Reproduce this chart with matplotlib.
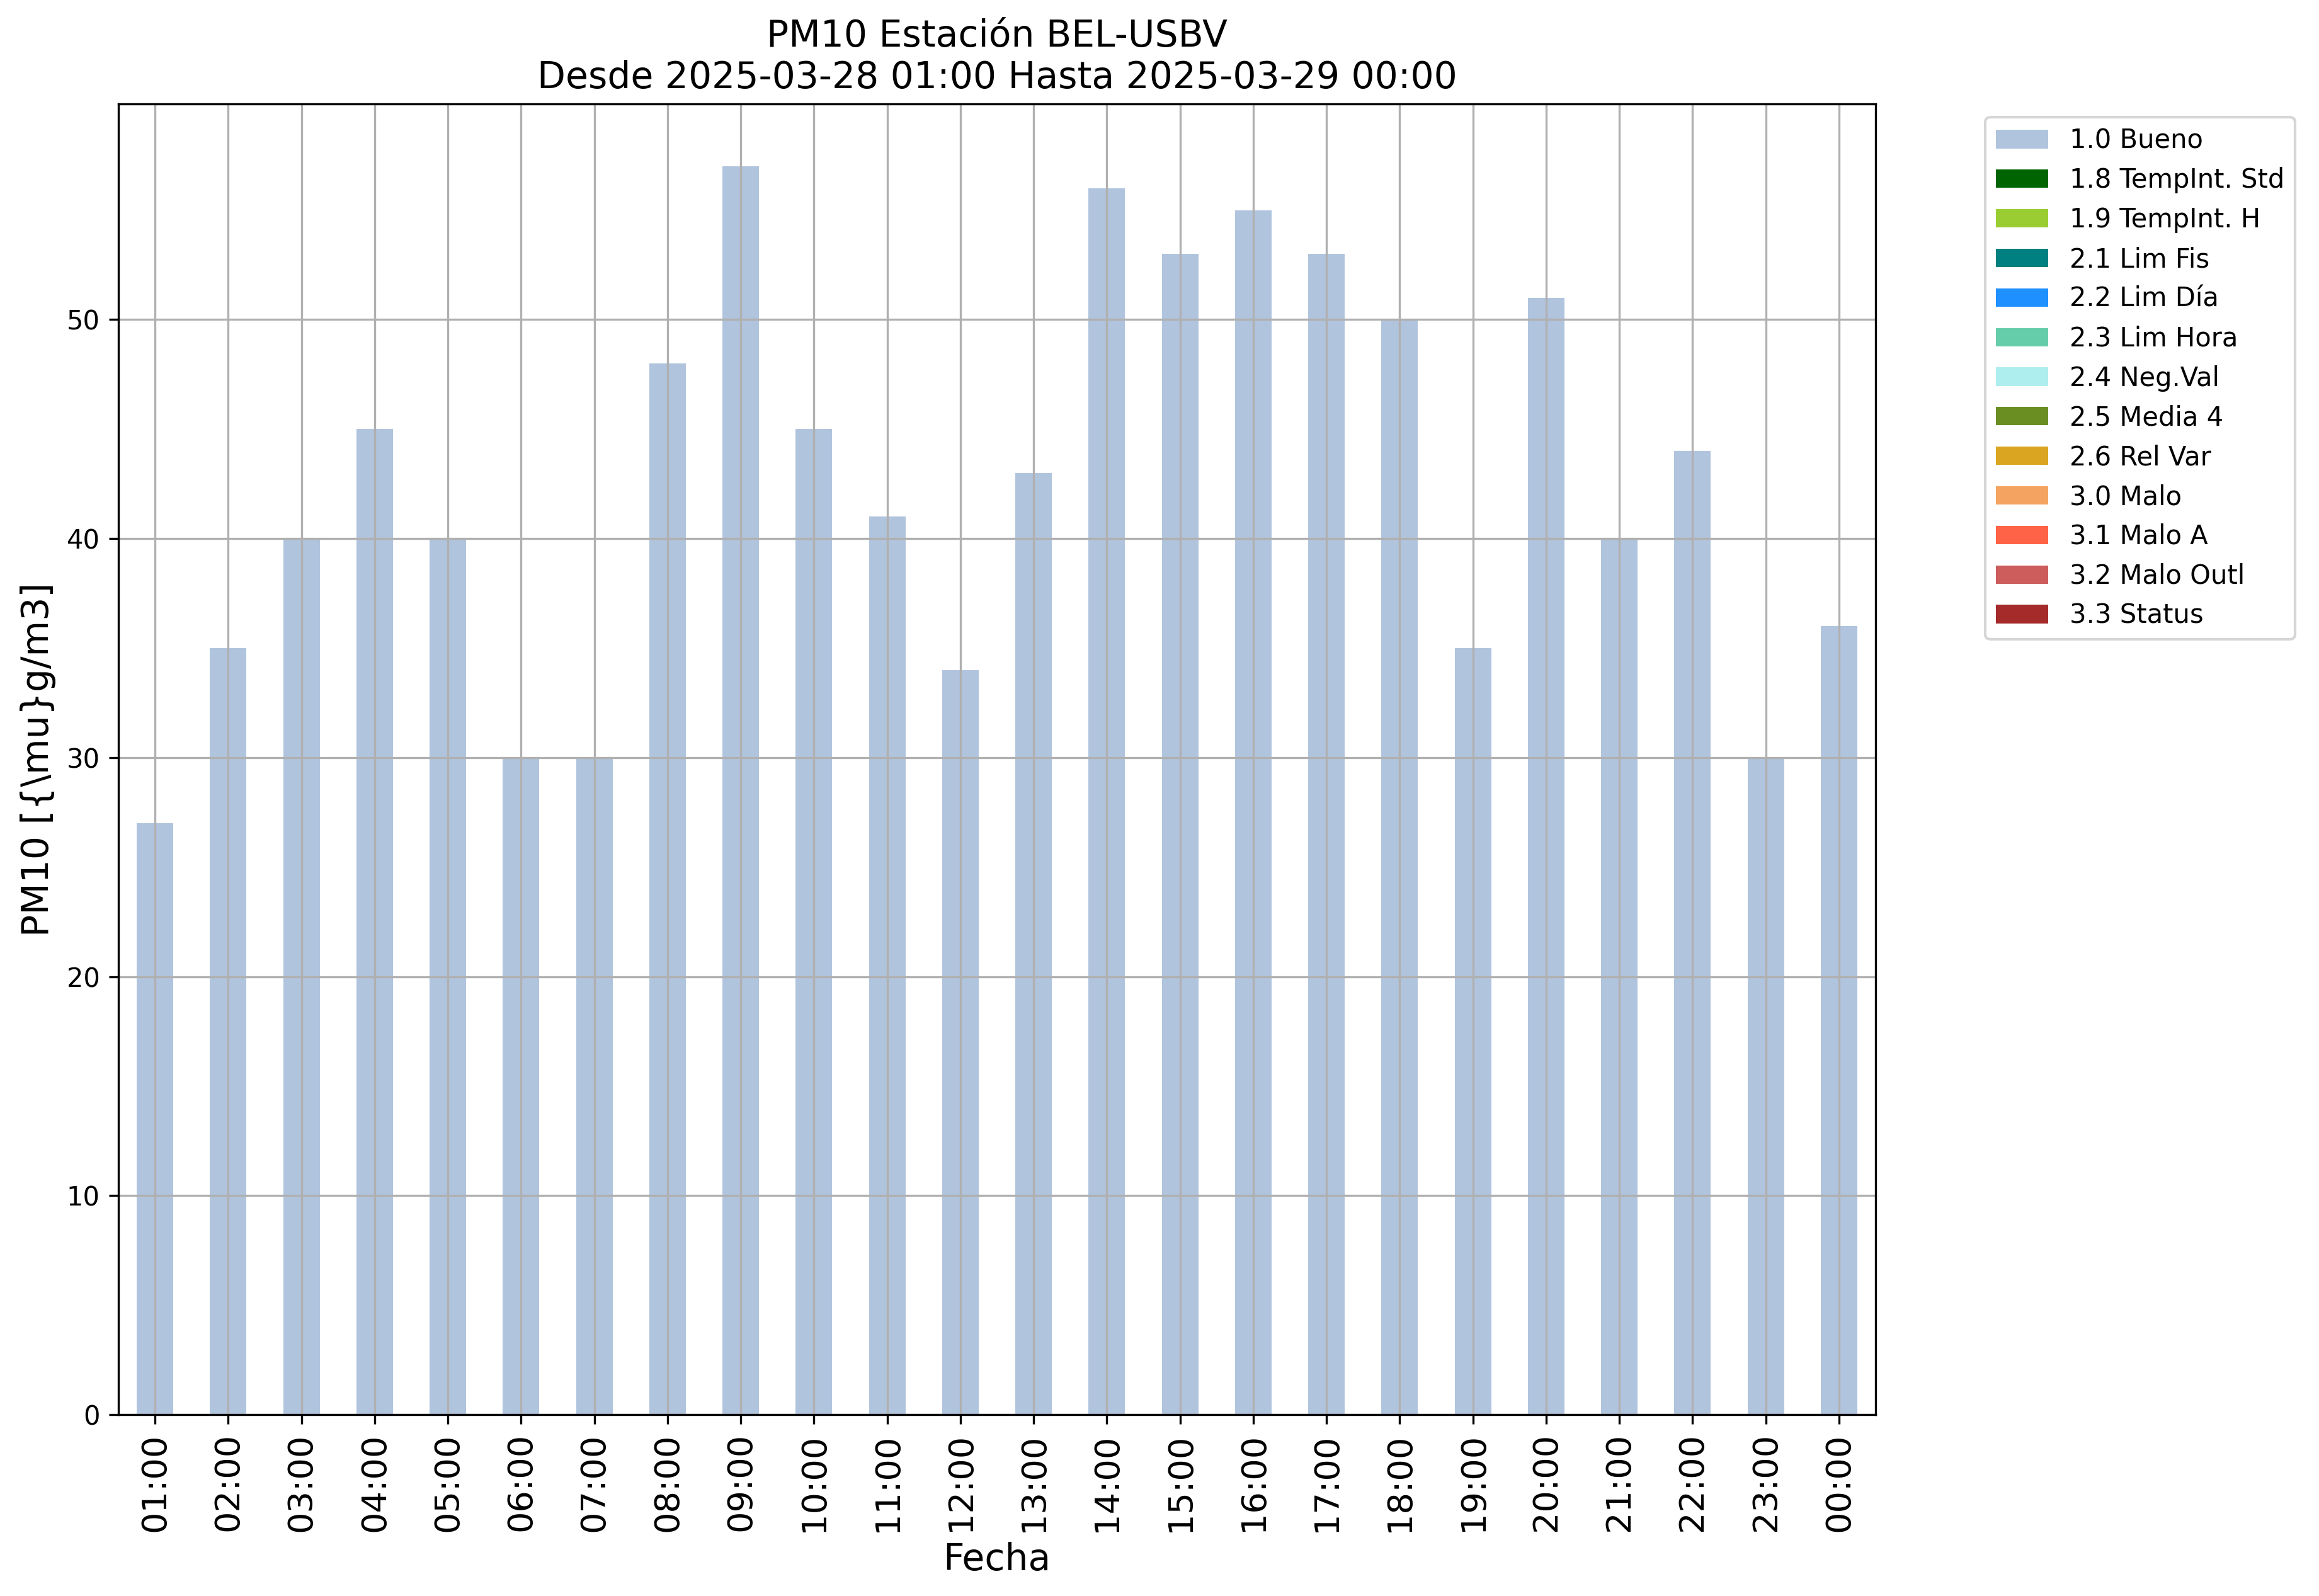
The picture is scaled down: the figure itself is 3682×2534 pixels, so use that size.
import numpy as np
import matplotlib
matplotlib.use("Agg")
import matplotlib.pyplot as plt

# horas del periodo
horas = ["01:00", "02:00", "03:00", "04:00", "05:00", "06:00", "07:00", "08:00",
         "09:00", "10:00", "11:00", "12:00", "13:00", "14:00", "15:00", "16:00",
         "17:00", "18:00", "19:00", "20:00", "21:00", "22:00", "23:00", "00:00"]

# valores PM10 con flag 1.0 Bueno
bueno = [27, 35, 40, 45, 40, 30, 30, 48, 57, 45, 41, 34,
         43, 56, 53, 55, 53, 50, 35, 51, 40, 44, 30, 36]

# resto de flags sin datos en el periodo
sin_datos = [0] * len(horas)

etiquetas = ["1.0 Bueno", "1.8 TempInt. Std", "1.9 TempInt. H", "2.1 Lim Fis",
             "2.2 Lim Día", "2.3 Lim Hora", "2.4 Neg.Val", "2.5 Media 4",
             "2.6 Rel Var", "3.0 Malo", "3.1 Malo A", "3.2 Malo Outl", "3.3 Status"]
colores = ["lightsteelblue", "darkgreen", "yellowgreen", "teal", "dodgerblue",
           "mediumaquamarine", "paleturquoise", "olivedrab", "goldenrod",
           "sandybrown", "tomato", "indianred", "brown"]

series = [bueno] + [sin_datos] * (len(etiquetas) - 1)

fig = plt.figure(figsize=(3682 / 300, 2534 / 300), dpi=300)
ax = fig.add_axes([0.05106, 0.11366, 0.75774, 0.82122])

x = np.arange(len(horas))
base = np.zeros(len(horas))
for vals, lab, col in zip(series, etiquetas, colores):
    ax.bar(x, vals, width=0.5, bottom=base, color=col, label=lab)
    base = base + np.array(vals)

ax.set_xlim(-0.5, len(horas) - 0.5)
ax.set_ylim(0, max(bueno) * 1.05)
ax.set_yticks([0, 10, 20, 30, 40, 50])
ax.set_xticks(x)
ax.set_xticklabels(horas, rotation=90, fontsize=13)
ax.tick_params(axis="y", labelsize=10)
ax.grid(True, color="#b0b0b0", linewidth=0.8)

ax.set_title("PM10 Estación BEL-USBV\nDesde 2025-03-28 01:00 Hasta 2025-03-29 00:00", fontsize=14)
ax.set_xlabel("Fecha", fontsize=14)
ax.set_ylabel("PM10 [{\\mu}g/m3]", fontsize=14)

ax.legend(loc="upper left", bbox_to_anchor=(1.055, 1), fontsize=10)

fig.savefig("out.png", dpi=300)
